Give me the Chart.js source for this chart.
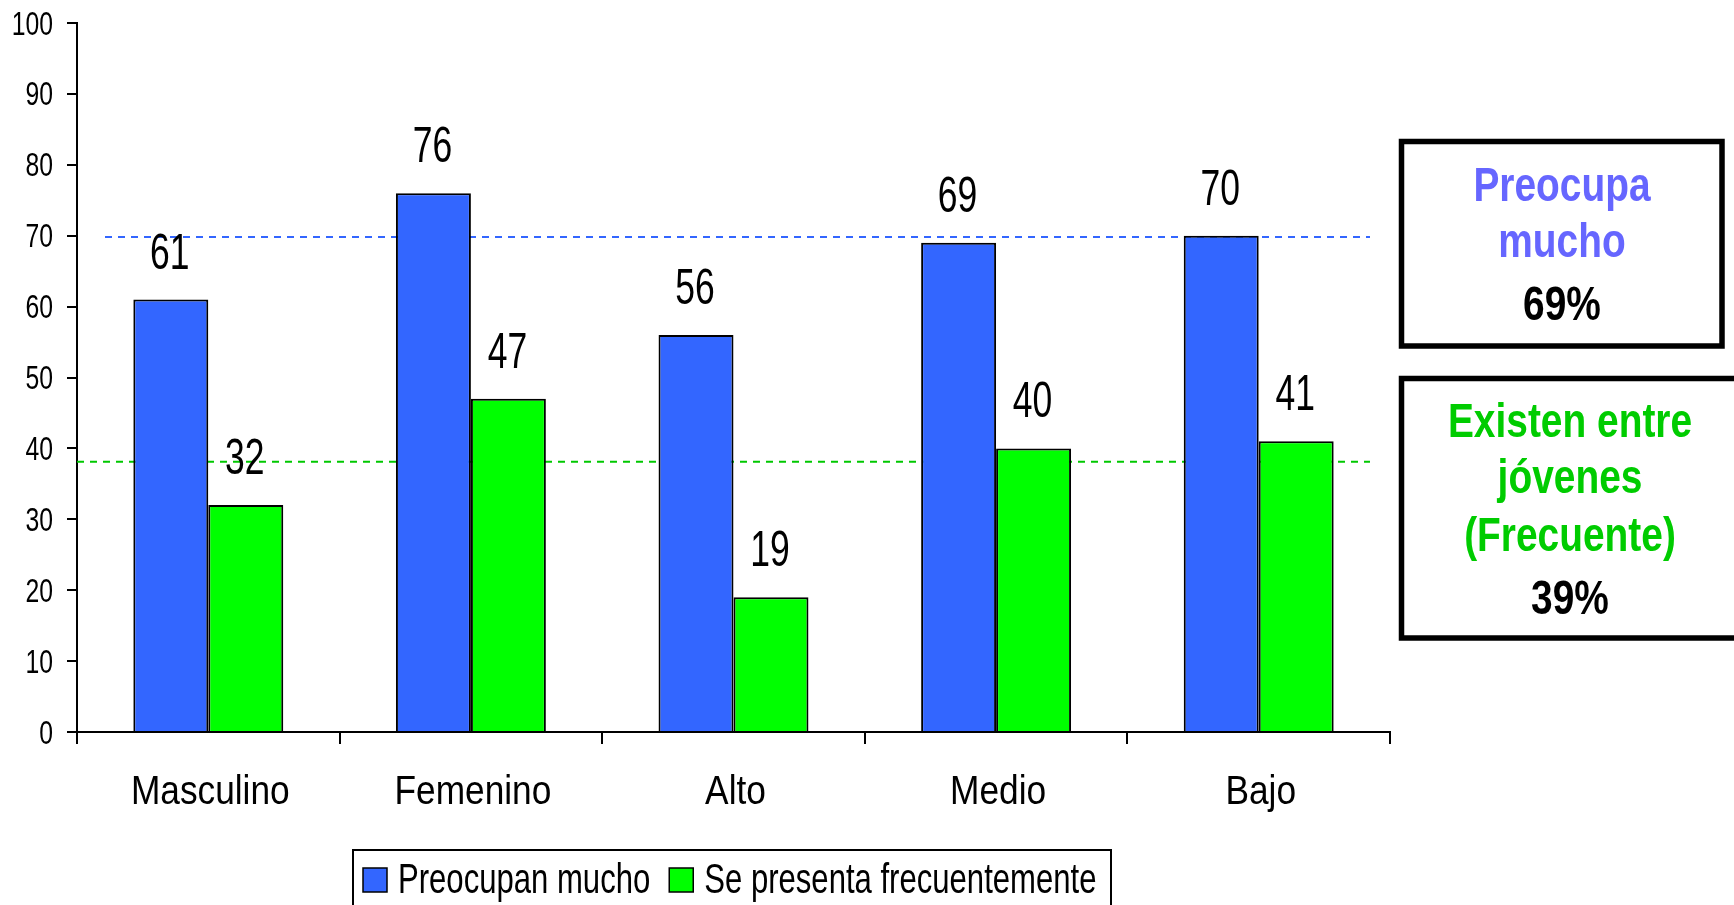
<!DOCTYPE html>
<html>
<head>
<meta charset="utf-8">
<script src="https://cdn.jsdelivr.net/npm/chart.js@4/dist/chart.umd.min.js"></script>
<style>
  html, body { margin: 0; padding: 0; background: #fff; }
  #wrap { width: 1734px; height: 905px; position: relative; }
</style>
</head>
<body>
<div id="wrap"><canvas id="chart"></canvas></div>
<script>
const categorias = ["Masculino", "Femenino", "Alto", "Medio", "Bajo"];
const preocupan = [61, 76, 56, 69, 70];
const frecuente = [32, 47, 19, 40, 41];
const yTicks = [0, 10, 20, 30, 40, 50, 60, 70, 80, 90, 100];
const lineaPreocupa = 69.8;
const lineaFrecuente = 38.1;
const cajaPreocupa = ["Preocupa", "mucho", "69%"];
const cajaFrecuente = ["Existen entre", "jóvenes", "(Frecuente)", "39%"];

const FONT = '"Liberation Sans", Arial, sans-serif';
const AZUL = "#3366ff";
const VERDE = "#00ff00";

// the original uses a narrow face, so squeeze Arial-like text sideways
function narrowText(ctx, text, x, y, size, sx, bold) {
    ctx.save();
    ctx.font = (bold ? "bold " : "") + size + "px " + FONT;
    const w = ctx.measureText(text).width * sx;
    ctx.translate(x, y);
    ctx.scale(sx, 1);
    ctx.fillText(text, 0, 0);
    ctx.restore();
    return w;
}

// average lines, drawn behind the bars
const avgLines = {
    id: "avgLines",
    beforeDatasetsDraw(chart) {
        const { ctx, chartArea, scales } = chart;
        const lines = [
            { v: lineaPreocupa, color: "#3366ff", from: chartArea.left + 28 },
            { v: lineaFrecuente, color: "#00c800", from: chartArea.left }
        ];
        ctx.save();
        ctx.lineWidth = 2;
        ctx.setLineDash([7, 6]);
        lines.forEach(l => {
            const y = scales.y.getPixelForValue(l.v);
            ctx.strokeStyle = l.color;
            ctx.beginPath();
            ctx.moveTo(l.from, y);
            ctx.lineTo(chartArea.right - 20, y);
            ctx.stroke();
        });
        ctx.restore();
    }
};

// tick labels, numbers above bars, legend, side boxes
const extras = {
    id: "extras",
    afterDraw(chart) {
        const { ctx } = chart;
        const xs = chart.scales.x, ys = chart.scales.y;
        ctx.save();
        ctx.fillStyle = "#000";
        ctx.textBaseline = "alphabetic";

        ctx.textAlign = "right";
        ys.ticks.forEach((t, i) => {
            narrowText(ctx, String(t.value), 53, ys.getPixelForTick(i) + 11.5, 33, 0.75);
        });
        ctx.textAlign = "center";
        chart.data.labels.forEach((lab, i) => {
            narrowText(ctx, lab, xs.getPixelForTick(i) + 2, xs.top + 72, 41, 0.86);
        });

        chart.data.datasets.forEach((ds, i) => {
            chart.getDatasetMeta(i).data.forEach((bar, j) => {
                narrowText(ctx, String(ds.data[j]), bar.x - 1, bar.y - 31, 50, 0.71);
            });
        });

        // legend
        ctx.lineWidth = 2;
        ctx.strokeStyle = "#000";
        ctx.strokeRect(353, 850, 758, 70);
        ctx.textAlign = "left";
        let x = 363;
        chart.data.datasets.forEach(ds => {
            ctx.fillStyle = ds.backgroundColor;
            ctx.fillRect(x, 868, 24, 24);
            ctx.lineWidth = 1.5;
            ctx.strokeRect(x, 868, 24, 24);
            ctx.fillStyle = "#000";
            const w = narrowText(ctx, ds.label, x + 35, 893, 42, 0.74);
            x += 35 + w + 19;
        });

        // boxes
        ctx.lineWidth = 5.5;
        ctx.strokeRect(1401.5, 141.5, 1722 - 1401.5, 346 - 141.5);
        ctx.strokeRect(1401.5, 378.5, 400, 638 - 378.5);
        ctx.textAlign = "center";
        const b1 = [201, 257, 320];
        cajaPreocupa.forEach((t, i) => {
            ctx.fillStyle = i < 2 ? "#6666ff" : "#000";
            narrowText(ctx, t, 1562, b1[i], 48, 0.81, true);
        });
        const b2 = [437, 493, 551, 614];
        cajaFrecuente.forEach((t, i) => {
            ctx.fillStyle = i < 3 ? "#00cc00" : "#000";
            narrowText(ctx, t, 1570, b2[i], 48, 0.81, true);
        });
        ctx.restore();
    }
};

new Chart(document.getElementById("chart"), {
    type: "bar",
    data: {
        labels: categorias,
        datasets: [
            {
                label: "Preocupan mucho",
                data: preocupan,
                backgroundColor: AZUL,
                borderColor: "#000",
                borderWidth: 2,
                categoryPercentage: 0.571,
                barPercentage: 1.0
            },
            {
                label: "Se presenta frecuentemente",
                data: frecuente,
                backgroundColor: VERDE,
                borderColor: "#000",
                borderWidth: 2,
                categoryPercentage: 0.571,
                barPercentage: 1.0
            }
        ]
    },
    options: {
        responsive: true,
        maintainAspectRatio: false,
        animation: false,
        layout: { padding: { top: 23, right: 344, left: 0, bottom: 0 } },
        plugins: {
            legend: { display: false },
            tooltip: { enabled: false }
        },
        scales: {
            x: {
                afterFit: s => { s.height = 173; },
                grid: { drawOnChartArea: false, drawTicks: true, tickLength: 12, color: "#000", lineWidth: 2, offset: true },
                border: { display: true, color: "#000", width: 2 },
                ticks: { display: false }
            },
            y: {
                min: 0,
                max: 100,
                afterFit: s => { s.width = 77; },
                afterBuildTicks: s => { s.ticks = yTicks.map(v => ({ value: v })); },
                grid: { drawOnChartArea: false, drawTicks: true, tickLength: 10, color: "#000", lineWidth: 2 },
                border: { display: true, color: "#000", width: 2 },
                ticks: { display: false }
            }
        }
    },
    plugins: [avgLines, extras]
});
</script>
</body>
</html>
